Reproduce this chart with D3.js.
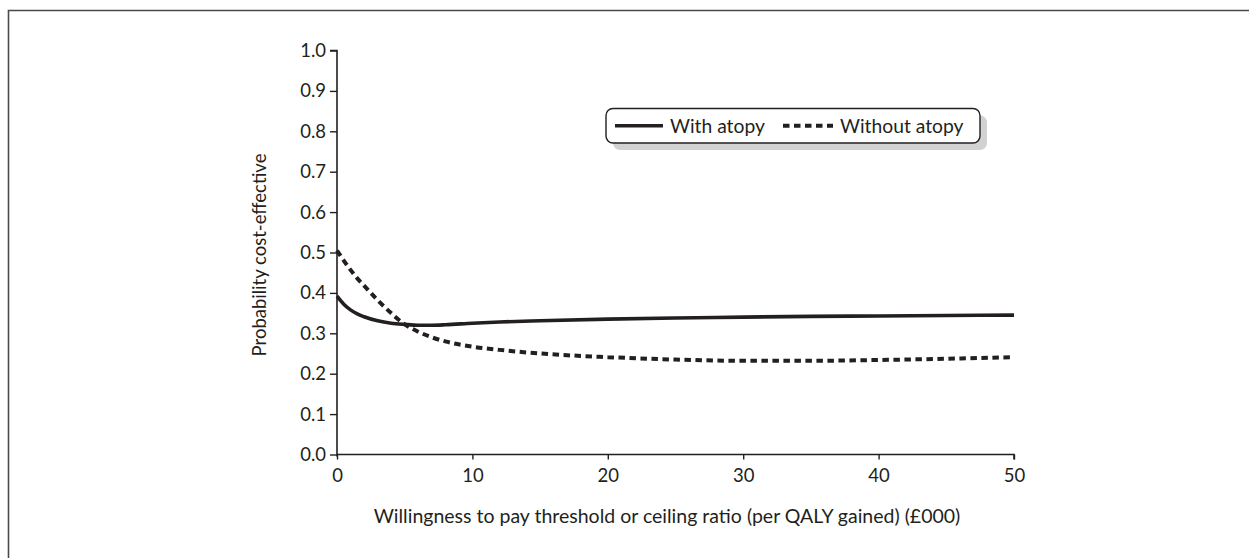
<!DOCTYPE html>
<html>
<head>
<meta charset="utf-8">
<script src="https://cdn.jsdelivr.net/npm/d3@7"></script>
<style>
  html, body { margin: 0; padding: 0; background: #fff; }
  svg { display: block; }
  text { font-family: Lato, "Open Sans", sans-serif; fill: #231f20; }
</style>
</head>
<body>
<svg id="chart" width="1249" height="558"></svg>
<script>
// Willingness-to-pay threshold (£000 per QALY gained)
const wtp = [0, 0.5, 1, 1.5, 2, 3, 4, 5, 6, 7, 8, 10, 12, 15, 20, 25, 30, 35, 40, 45, 50];
// Probability cost-effective, with atopy
const withAtopy = [0.392, 0.372, 0.358, 0.348, 0.341, 0.331, 0.325, 0.322, 0.320, 0.320, 0.321, 0.325, 0.328, 0.331, 0.335, 0.338, 0.340, 0.342, 0.343, 0.344, 0.345];
// Probability cost-effective, without atopy
const withoutAtopy = [0.505, 0.480, 0.457, 0.436, 0.418, 0.382, 0.350, 0.322, 0.304, 0.290, 0.280, 0.267, 0.259, 0.250, 0.241, 0.235, 0.232, 0.232, 0.234, 0.237, 0.241];

const seriesNames = ["With atopy", "Without atopy"];
const xTicks = [0, 10, 20, 30, 40, 50];
const yTicks = [0, 0.1, 0.2, 0.3, 0.4, 0.5, 0.6, 0.7, 0.8, 0.9, 1.0];

const svg = d3.select("#chart");
const ink = "#231f20";

// outer frame (top and left edges show inside the page)
svg.append("path")
  .attr("d", "M8.5,558 L8.5,10.5 L1249,10.5")
  .attr("fill", "none")
  .attr("stroke", "#4a4a4a")
  .attr("stroke-width", 1.6);

const plot = { left: 337, right: 1014, top: 50.5, bottom: 454.5 };

const x = d3.scaleLinear().domain([0, 50]).range([plot.left, plot.right]);
const y = d3.scaleLinear().domain([0, 1]).range([plot.bottom, plot.top]);

// axes
const xAxis = d3.axisBottom(x).tickValues(xTicks).tickSize(5).tickPadding(9).tickFormat(d3.format("d"));
const yAxis = d3.axisLeft(y).tickValues(yTicks).tickSize(7).tickPadding(4).tickFormat(d3.format(".1f"));

const gx = svg.append("g").attr("transform", `translate(0,${plot.bottom})`).call(xAxis);
const gy = svg.append("g").attr("transform", `translate(${plot.left},0)`).call(yAxis);

[gx, gy].forEach(g => {
  g.select(".domain").attr("stroke", ink).attr("stroke-width", 1.6);
  g.selectAll(".tick line").attr("stroke", ink).attr("stroke-width", 1.4);
  g.selectAll(".tick text")
    .attr("font-family", "Lato, 'Open Sans', sans-serif")
    .attr("font-size", 18.5)
    .attr("fill", ink);
});
// keep the top outer tick on the y axis, drop the default stubs elsewhere
gy.select(".domain").attr("d", `M-7,${plot.top}H0V${plot.bottom + 2}`);
gx.select(".domain").attr("d", `M${plot.left},0H${plot.right}V5`);

// axis titles
svg.append("text")
  .attr("x", 667)
  .attr("y", 523)
  .attr("text-anchor", "middle")
  .attr("font-size", 19.5)
  .text("Willingness to pay threshold or ceiling ratio (per QALY gained) (£000)");

svg.append("text")
  .attr("transform", "translate(266,255) rotate(-90)")
  .attr("text-anchor", "middle")
  .attr("font-size", 18.5)
  .text("Probability cost-effective");

// curves
const line = d3.line()
  .x(d => x(d[0]))
  .y(d => y(d[1]))
  .curve(d3.curveMonotoneX);

const ptsWith = wtp.map((v, i) => [v, withAtopy[i]]);
const ptsWithout = wtp.map((v, i) => [v, withoutAtopy[i]]);

svg.append("path")
  .attr("d", line(ptsWithout))
  .attr("fill", "none")
  .attr("stroke", ink)
  .attr("stroke-width", 4)
  .attr("stroke-dasharray", "6.5,4.5");

svg.append("path")
  .attr("d", line(ptsWith))
  .attr("fill", "none")
  .attr("stroke", ink)
  .attr("stroke-width", 3.6);

// legend
const lg = { x: 606, y: 108.5, w: 374, h: 34.5 };
svg.append("rect")
  .attr("x", lg.x + 7).attr("y", lg.y + 7)
  .attr("width", lg.w).attr("height", lg.h)
  .attr("rx", 7)
  .attr("fill", "#d2d2d2");
svg.append("rect")
  .attr("x", lg.x).attr("y", lg.y)
  .attr("width", lg.w).attr("height", lg.h)
  .attr("rx", 7)
  .attr("fill", "#fff")
  .attr("stroke", ink)
  .attr("stroke-width", 1.4);

const legendItems = [
  { name: seriesNames[0], x1: 615, x2: 663, tx: 670, dash: null, w: 3.6 },
  { name: seriesNames[1], x1: 783, x2: 833, tx: 840, dash: "6.5,4.5", w: 4 }
];
const ly = lg.y + lg.h / 2;
legendItems.forEach(it => {
  svg.append("line")
    .attr("x1", it.x1).attr("x2", it.x2)
    .attr("y1", ly).attr("y2", ly)
    .attr("stroke", ink)
    .attr("stroke-width", it.w)
    .attr("stroke-dasharray", it.dash);
  svg.append("text")
    .attr("x", it.tx)
    .attr("y", ly + 6.8)
    .attr("font-size", 19.3)
    .text(it.name);
});
</script>
</body>
</html>
